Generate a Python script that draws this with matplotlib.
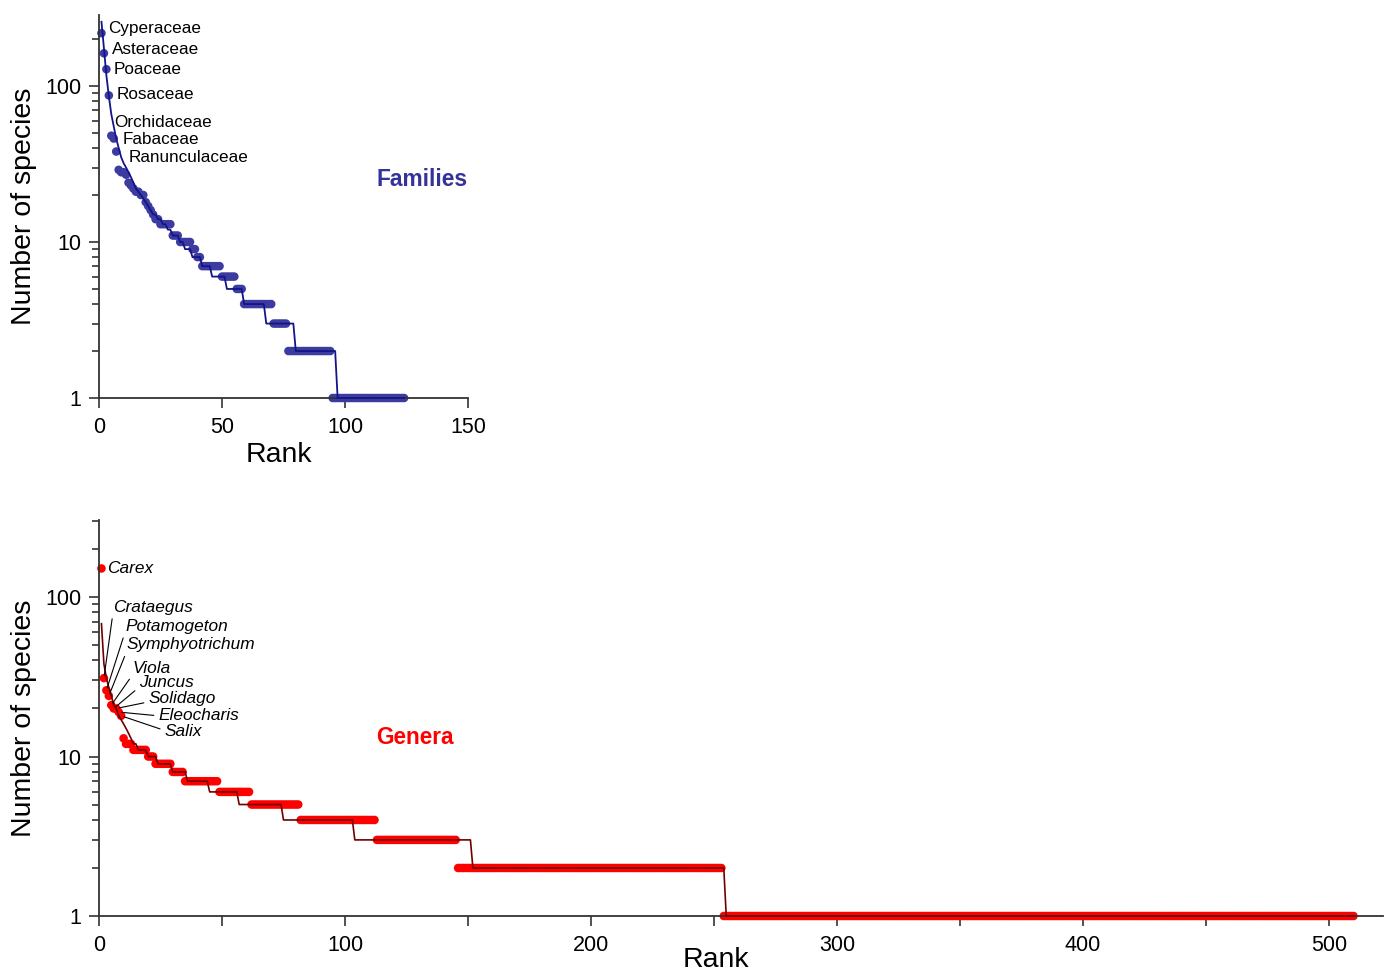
import numpy as np
import matplotlib
matplotlib.use('Agg')
import matplotlib.pyplot as plt
from matplotlib.ticker import FixedLocator, LogLocator, NullFormatter, FuncFormatter, MultipleLocator

plt.rcParams['font.family'] = ['Liberation Sans', 'DejaVu Sans']

# ---------------- data ----------------
# Families: number of species per family in rank order (head + run-length tail)
fam_head = [218, 162, 128, 87, 48, 46, 38, 29, 28, 28, 27, 24, 23, 22, 21, 21,
            20, 20, 18, 17, 16, 15, 14, 14]
fam_tail_values = [13, 11, 10, 9, 8, 7, 6, 5, 4, 3, 2, 1]
fam_tail_counts = [5, 3, 5, 2, 2, 8, 6, 3, 12, 6, 18, 30]

# Families: expected (model) curve
fam_model_head = [258, 175, 117, 86, 66, 55, 46, 40, 35, 32, 30, 28, 26, 24, 22,
                  21, 20, 19, 18, 17, 16, 15, 15, 14, 14, 13, 13, 12, 12]
fam_model_tail_values = [11, 10, 9, 8, 7, 6, 5, 4, 3, 2, 1]
fam_model_tail_counts = [3, 2, 3, 4, 4, 6, 7, 9, 12, 17, 28]

fam_labels = ['Cyperaceae', 'Asteraceae', 'Poaceae', 'Rosaceae',
              'Orchidaceae', 'Fabaceae', 'Ranunculaceae']

# Genera: number of species per genus in rank order
gen_head = [151, 31, 26, 24, 21, 20, 20, 19, 18, 13]
gen_tail_values = [12, 11, 10, 9, 8, 7, 6, 5, 4, 3, 2, 1]
gen_tail_counts = [3, 6, 3, 7, 5, 14, 13, 20, 31, 33, 108, 257]

# Genera: expected (model) curve
gen_model_head = [68, 38, 31, 27, 24, 21, 20, 18, 17, 16, 15, 14, 13, 12, 12]
gen_model_tail_values = [11, 10, 9, 8, 7, 6, 5, 4, 3, 2, 1]
gen_model_tail_counts = [4, 4, 6, 6, 9, 12, 18, 29, 48, 103, 256]

gen_labels = ['Carex', 'Crataegus', 'Potamogeton', 'Symphyotrichum', 'Viola',
              'Juncus', 'Solidago', 'Eleocharis', 'Salix']


def expand(head, values, counts):
    out = list(head)
    for v, c in zip(values, counts):
        out.extend([v] * c)
    return np.array(out, dtype=float)


fam = expand(fam_head, fam_tail_values, fam_tail_counts)
fam_model = expand(fam_model_head, fam_model_tail_values, fam_model_tail_counts)
gen = expand(gen_head, gen_tail_values, gen_tail_counts)
gen_model = expand(gen_model_head, gen_model_tail_values, gen_model_tail_counts)
fam_rank = np.arange(1, len(fam) + 1)
fam_model_rank = np.arange(1, len(fam_model) + 1)
gen_rank = np.arange(1, len(gen) + 1)
gen_model_rank = np.arange(1, len(gen_model) + 1)

# ---------------- figure ----------------
W, H = 1385, 975
fig = plt.figure(figsize=(W / 100, H / 100), dpi=100)

ax1 = fig.add_axes([99 / W, (H - 398) / H, 369 / W, 383 / H])
ax2 = fig.add_axes([99 / W, (H - 916) / H, 1284 / W, 396 / H])

AXC = '#333333'


def style(ax, xmax, ymax):
    ax.set_yscale('log')
    ax.set_xlim(0, xmax)
    ax.set_ylim(1, ymax)
    for s in ('top', 'right'):
        ax.spines[s].set_visible(False)
    for s in ('left', 'bottom'):
        ax.spines[s].set_color(AXC)
        ax.spines[s].set_linewidth(1.3)
    ax.yaxis.set_major_locator(FixedLocator([1, 10, 100]))
    ax.yaxis.set_minor_locator(LogLocator(base=10, subs=np.arange(2, 10), numticks=20))
    ax.yaxis.set_major_formatter(FuncFormatter(lambda v, p: f'{v:g}'))
    ax.yaxis.set_minor_formatter(NullFormatter())
    ax.tick_params(which='both', direction='out', color=AXC, width=1.2)
    ax.tick_params(which='major', length=7, labelsize=15.5)
    ax.tick_params(axis='y', which='minor', length=5)
    ax.tick_params(axis='y', which='major', pad=5.5)
    ax.tick_params(axis='x', which='both', length=7, pad=7)
    ax.set_ylabel('Number of species', fontsize=20.5, va='center')
    ax.set_xlabel('Rank', fontsize=20.5, va='center')


MS = 38

# ---- top: families ----
style(ax1, 150, 285)
ax1.xaxis.set_major_locator(FixedLocator([0, 50, 100, 150]))
ax1.scatter(fam_rank, fam, s=MS, color='#3c3ca0', edgecolors='none',
            zorder=2, clip_on=False)
ax1.plot(fam_model_rank, fam_model, color='#14148a', lw=1.3, zorder=3, clip_on=False)
ax1.yaxis.set_label_coords((24 - 99) / 369, 0.5)
ax1.xaxis.set_label_coords((279 - 99) / 369, (398 - 455) / 383)

fam_offsets = [(6.5, 4.3), (8.1, 3.3), (7.6, -0.7), (8.2, 0.7),
               (2.7, 13.0), (9.2, -1.0), (12.8, -6.3)]
for i, (name, off) in enumerate(zip(fam_labels, fam_offsets)):
    ax1.annotate(name, xy=(fam_rank[i], fam[i]), xytext=off,
                 textcoords='offset pixels', ha='left', va='center',
                 fontsize=12.3, color='black')

fig.text(376 / W, 1 - 180 / H, 'Families', color='#333399', fontsize=16.4,
         fontweight='bold', ha='left', va='center')

# ---- bottom: genera ----
style(ax2, 522, 304)
ax2.xaxis.set_major_locator(MultipleLocator(100))
ax2.xaxis.set_minor_locator(MultipleLocator(50))
ax2.scatter(gen_rank, gen, s=MS, color='#ff0000', edgecolors='none',
            zorder=2, clip_on=False)
ax2.plot(gen_model_rank, gen_model, color='#700000', lw=1.2, zorder=3, clip_on=False)
ax2.yaxis.set_label_coords((24 - 99) / 1284, 0.5)
ax2.xaxis.set_label_coords((716 - 99) / 1284, (916 - 960) / 396)

gen_offsets = [(5.5, 0.0), (9.0, 71.0), (18.6, 64.0), (18.0, 51.0), (21.7, 37.0),
               (25.0, 25.5), (31.8, 9.5), (39.3, -3.0), (43.0, -16.0)]
gen_relpos = [None, (0, 0.1), (0, 0.1), (0, 0.1), (0, 0.1),
              (0, 0.2), (0, 0.3), (0, 0.45), (0, 0.6)]
for i, (name, off, rp) in enumerate(zip(gen_labels, gen_offsets, gen_relpos)):
    if rp is None:
        ax2.annotate(name, xy=(gen_rank[i], gen[i]), xytext=off,
                     textcoords='offset pixels', ha='left', va='center',
                     fontsize=12.4, style='italic', color='black')
    else:
        ax2.annotate(name, xy=(gen_rank[i], gen[i]), xytext=off,
                     textcoords='offset pixels', ha='left', va='center',
                     fontsize=12.4, style='italic', color='black',
                     arrowprops=dict(arrowstyle='-', color='black', lw=0.8,
                                     shrinkA=1, shrinkB=2, relpos=rp))

fig.text(376 / W, 1 - 737 / H, 'Genera', color='#ff0000', fontsize=16.3,
         fontweight='bold', ha='left', va='center')

fig.savefig('out.png', dpi=100)
